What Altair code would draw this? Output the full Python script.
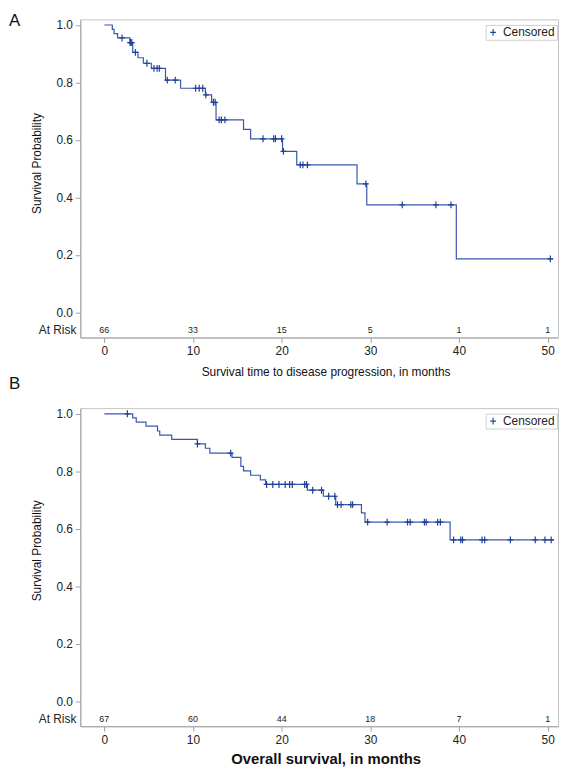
import altair as alt
import pandas as pd

# ---------------- data ----------------
# Panel A: survival time to disease progression
pfs_step_t = [0.0, 0.9, 1.1, 1.5, 2.9, 3.2, 3.8, 4.4, 5.3, 6.9, 8.6, 11.4, 12.1, 12.6,
              15.7, 16.5, 20.1, 21.7, 28.5, 29.6, 39.7, 50.6]
pfs_step_s = [1.0, 0.985, 0.970, 0.955, 0.939, 0.905, 0.886, 0.867, 0.849, 0.808, 0.780,
              0.757, 0.731, 0.670, 0.637, 0.604, 0.560, 0.513, 0.447, 0.374, 0.186, 0.186]
pfs_cens_t = [2.0, 2.9, 3.0, 3.1, 3.5, 4.8, 5.6, 5.95, 6.2, 7.1, 8.0, 10.3, 10.7, 11.1,
              11.45, 12.3, 12.5, 12.95, 13.2, 13.6, 17.9, 19.1, 19.3, 20.0, 20.2, 22.1,
              22.4, 22.9, 29.5, 33.6, 37.4, 39.1, 50.3]
pfs_cens_s = [0.955, 0.939, 0.939, 0.939, 0.905, 0.867, 0.849, 0.849, 0.849, 0.808, 0.808,
              0.780, 0.780, 0.780, 0.757, 0.731, 0.731, 0.670, 0.670, 0.670, 0.604, 0.604,
              0.604, 0.604, 0.560, 0.513, 0.513, 0.513, 0.447, 0.374, 0.374, 0.374, 0.186]

# Panel B: overall survival
os_step_t = [0.0, 3.2, 3.6, 4.7, 6.0, 6.25, 7.6, 10.5, 11.4, 11.9, 14.4, 15.4, 15.7, 16.5,
             17.6, 18.2, 22.9, 24.7, 26.1, 29.0, 29.4, 39.0, 50.7]
os_step_s = [1.0, 0.986, 0.971, 0.957, 0.940, 0.926, 0.911, 0.895, 0.880, 0.863, 0.848,
             0.817, 0.801, 0.786, 0.770, 0.754, 0.734, 0.713, 0.684, 0.655, 0.623, 0.561, 0.561]
os_cens_t = [2.6, 10.5, 14.25, 18.3, 19.0, 19.7, 20.4, 20.9, 21.2, 22.6, 22.8, 23.5, 24.5,
             25.3, 26.0, 26.3, 26.7, 27.8, 28.0, 29.7, 31.9, 34.2, 34.5, 36.1, 36.3, 37.6,
             37.9, 39.4, 40.2, 40.4, 42.6, 42.9, 45.8, 48.6, 49.7, 50.4]
os_cens_s = [1.0, 0.895, 0.863, 0.754, 0.754, 0.754, 0.754, 0.754, 0.754, 0.754, 0.754,
             0.734, 0.734, 0.713, 0.713, 0.684, 0.684, 0.684, 0.684, 0.623, 0.623, 0.623,
             0.623, 0.623, 0.623, 0.623, 0.623, 0.561, 0.561, 0.561, 0.561, 0.561, 0.561,
             0.561, 0.561, 0.561]

risk_t = [0, 10, 20, 30, 40, 50]
pfs_risk = [66, 33, 15, 5, 1, 1]
os_risk = [67, 60, 44, 18, 7, 1]

x_ticks = [0, 10, 20, 30, 40, 50]
y_ticks = [0.0, 0.2, 0.4, 0.6, 0.8, 1.0]
risk_y = -0.062

# ---------------- styling ----------------
FONT = "Liberation Sans"
LINE_BLUE = "#3858ac"
MARK_BLUE = "#1f3f99"
PLUS = "M-0.85,0H0.85M0,-1V1"
W, H = 482, 321


def panel(letter, letter_y, st, ss, ct, cs, risk, xtitle, tsize, tweight, ttitle_y, ytitle_y):
    xs = alt.Scale(domain=[-2.705, 51.17], nice=False, zero=False)
    ys = alt.Scale(domain=[-0.0876, 1.0197], nice=False, zero=False)
    xaxis = alt.Axis(values=x_ticks, format="d", title=xtitle, grid=False,
                     titleFontSize=tsize, titleFontWeight=tweight, titleFont=FONT,
                     titleColor="#111", titleBaseline="middle", titleY=ttitle_y, titleX=247.5,
                     labelFont=FONT, labelFontSize=12, labelColor="#222", labelPadding=3,
                     tickSize=5, tickColor="#a0a0a0", domainColor="#a0a0a0")
    yaxis = alt.Axis(values=y_ticks, format=".1f", title="Survival Probability", grid=False,
                     titleFontSize=12, titleFontWeight="normal", titleFont=FONT,
                     titleColor="#111", titleBaseline="middle", titleX=-44.5, titleY=ytitle_y,
                     labelFont=FONT, labelFontSize=12, labelColor="#222", labelPadding=3,
                     tickSize=5, tickColor="#a0a0a0", domainColor="#a0a0a0")

    line_df = pd.DataFrame({"t": st, "s": ss})
    cens_df = pd.DataFrame({"t": ct, "s": cs, "lab": ["Censored"] * len(ct)})
    risk_df = pd.DataFrame({"t": risk_t, "n": [str(v) for v in risk]})
    lab_df = pd.DataFrame({"lab": ["At Risk"]})
    let_df = pd.DataFrame({"lab": [letter]})

    line = alt.Chart(line_df).mark_line(
        interpolate="step-after", color=LINE_BLUE, strokeWidth=1.2
    ).encode(
        x=alt.X("t:Q", scale=xs, axis=xaxis),
        y=alt.Y("s:Q", scale=ys, axis=yaxis),
    )

    cens = alt.Chart(cens_df).mark_point(
        shape=PLUS, filled=False, size=48, strokeWidth=1.2, opacity=1
    ).encode(
        x=alt.X("t:Q", scale=xs),
        y=alt.Y("s:Q", scale=ys),
        color=alt.Color(
            "lab:N",
            scale=alt.Scale(domain=["Censored"], range=[MARK_BLUE]),
            legend=alt.Legend(
                title=None, orient="none", legendX=409, legendY=5.6,
                strokeColor="#cfcfcf", fillColor="white", padding=1.5,
                symbolType=PLUS, symbolSize=44, symbolStrokeWidth=1.1,
                symbolStrokeColor=MARK_BLUE, labelFont=FONT, labelFontSize=12,
                labelColor="#222", labelOffset=4,
            ),
        ),
    )

    risk_txt = alt.Chart(risk_df).mark_text(
        font=FONT, fontSize=9, color="#222", baseline="middle"
    ).encode(
        x=alt.X("t:Q", scale=xs),
        y=alt.datum(risk_y, scale=ys),
        text="n:N",
    )

    risk_lab = alt.Chart(lab_df).mark_text(
        font=FONT, fontSize=12, color="#222", align="right", baseline="middle"
    ).encode(
        x=alt.value(-4),
        y=alt.datum(risk_y, scale=ys),
        text="lab:N",
    )

    letter_txt = alt.Chart(let_df).mark_text(
        font=FONT, fontSize=17, color="#111", align="left", baseline="top"
    ).encode(
        x=alt.value(-72),
        y=alt.value(letter_y),
        text="lab:N",
    )

    return alt.layer(line, cens, risk_txt, risk_lab, letter_txt).properties(width=W, height=H)


pa = panel("A", -6, pfs_step_t, pfs_step_s, pfs_cens_t, pfs_cens_s, pfs_risk,
           "Survival time to disease progression, in months", 12, "normal", 34, 145)
pb = panel("B", -32, os_step_t, os_step_s, os_cens_t, os_cens_s, os_risk,
           "Overall survival, in months", 15, "bold", 33, 143.5)

chart = alt.vconcat(pa, pb, spacing=71.3, bounds="flush").resolve_scale(
    color="independent"
).resolve_legend(color="independent").properties(
    padding={"left": 0, "top": 0, "right": 0, "bottom": 0}
).configure_view(stroke="#c4c4c4", strokeWidth=1)

chart.save("out.html", embed_options={"renderer": "svg", "actions": False})
